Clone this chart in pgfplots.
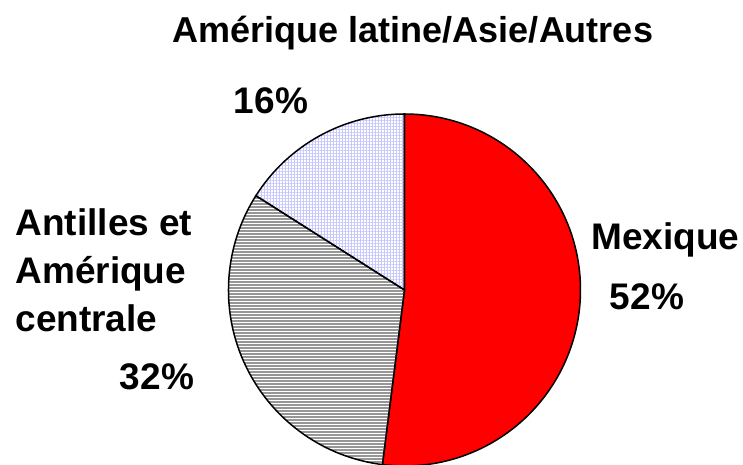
\documentclass[border=0pt]{standalone}
\usepackage{pgfplots}
\usepackage{pgfplotstable}
\usepackage{fontspec}
\setmainfont{Liberation Sans}
\usetikzlibrary{patterns.meta}
\pgfplotsset{compat=1.18}
\definecolor{pieRed}{RGB}{255,0,0}
\definecolor{pieGray}{RGB}{150,150,150}
\definecolor{pieLav}{RGB}{200,200,255}

% parts in percent, clockwise from 12 o'clock
\pgfplotstableread{
part value
Mexique 52
Antilles 32
Autres 16
}\piedata

\tikzset{lbl/.style={font=\fontsize{14.8}{17}\selectfont\bfseries, inner sep=0pt}}

\begin{document}
\begin{tikzpicture}
  \pgfplotstablegetelem{0}{value}\of\piedata \let\vA\pgfplotsretval
  \pgfplotstablegetelem{1}{value}\of\piedata \let\vB\pgfplotsretval
  \pgfmathsetmacro\angA{90-3.6*\vA}
  \pgfmathsetmacro\angB{\angA-3.6*\vB}
  \begin{axis}[
    x=0.4pt, y=0.4pt,
    xmin=0, xmax=743, ymin=0, ymax=465,
    hide axis
  ]
    % Mexique
    \filldraw[fill=pieRed, draw=black, line width=0.6pt]
      (axis cs:404.5,175) -- ++(90:176) arc[start angle=90, end angle=\angA, radius=176] -- cycle;
    % Antilles et Amerique centrale: grey horizontal hatching
    \begin{scope}
      \clip (axis cs:404.5,175) -- ++(\angA:176) arc[start angle=\angA, end angle=\angB, radius=176] -- cycle;
      \pgfplotsinvokeforeach{0,3,...,465}{
        \draw[pieGray, line width=0.8pt] (axis cs:200,#1) -- (axis cs:600,#1);
      }
    \end{scope}
    \draw[black, line width=0.6pt]
      (axis cs:404.5,175) -- ++(\angA:176) arc[start angle=\angA, end angle=\angB, radius=176] -- cycle;
    % Amerique latine/Asie/Autres
    \filldraw[pattern={Hatch[angle=0,distance=1.2pt,line width=0.3pt]}, pattern color=pieLav, draw=black, line width=0.6pt]
      (axis cs:404.5,175) -- ++(\angB:176) arc[start angle=\angB, end angle=-270, radius=176] -- cycle;

    \node[lbl, anchor=base, font=\fontsize{14.4}{17}\selectfont\bfseries] at (axis cs:413,422) {Amérique latine/Asie/Autres};
    \node[lbl, anchor=base] at (axis cs:271,351) {16\%};
    \node[lbl, anchor=base west] at (axis cs:15,229) {Antilles et};
    \node[lbl, anchor=base west] at (axis cs:15,181) {Amérique};
    \node[lbl, anchor=base west] at (axis cs:15,133) {centrale};
    \node[lbl, anchor=base] at (axis cs:157,75) {32\%};
    \node[lbl, anchor=base west] at (axis cs:591,215) {Mexique};
    \node[lbl, anchor=base] at (axis cs:647,155) {52\%};
  \end{axis}
  \pgfresetboundingbox
  \useasboundingbox (current axis.south west) rectangle (current axis.north east);
\end{tikzpicture}
\end{document}
